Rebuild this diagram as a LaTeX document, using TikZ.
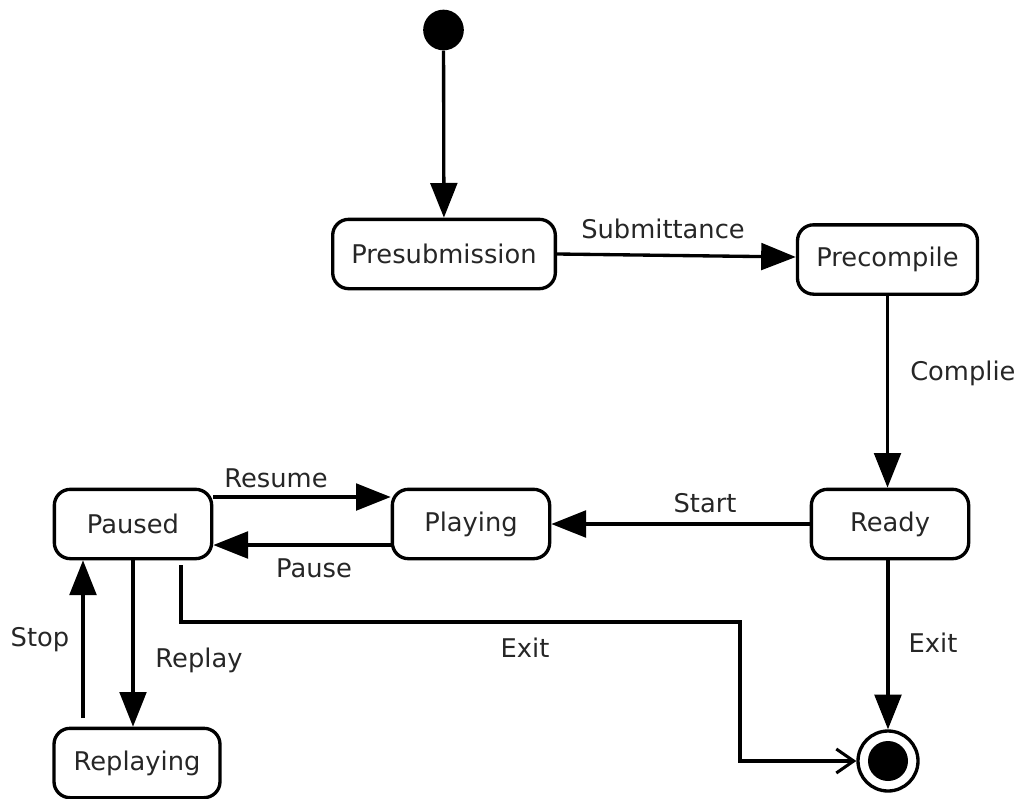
\documentclass[tikz,border=0pt]{standalone}
\usepackage{fontspec}
\setmainfont{DejaVu Sans}
\usetikzlibrary{arrows.meta}
\newcommand{\statefont}{\fontsize{19.3}{23}\selectfont}
\begin{document}
\begin{tikzpicture}[x=0.75pt,y=-0.75pt,
  state/.style={draw,line width=2.5pt,rounded corners=12pt,minimum height=52pt,
    inner sep=0pt,font=\statefont,text=black!85},
  lbl/.style={font=\statefont,text=black!85,inner sep=0pt},
  trans/.style={line width=2.5pt,-{Triangle[length=26pt,width=20pt]}},
  exitarrow/.style={line width=2.3pt,-{Straight Barb[length=13pt,width=18pt]}}]
\useasboundingbox (0,0) rectangle (1021,799);

% states
\node[circle,fill=black,minimum size=30.5pt,inner sep=0pt] (init) at (443.5,30) {};
\node[state,minimum width=167pt] (Presubmission) at (444,254) {Presubmission};
\node[state,minimum width=135pt] (Precompile) at (887.5,259.5) {Precompile};
\node[state,minimum width=118pt] (Ready) at (890,524) {Ready};
\node[state,minimum width=118pt] (Playing) at (471,524) {Playing};
\node[state,minimum width=118pt] (Paused) at (133,524) {Paused};
\node[state,minimum width=124.5pt] (Replaying) at (137,763) {Replaying};
\node[circle,draw,line width=2.5pt,minimum size=45pt,inner sep=0pt] (final) at (888,761) {};
\node[circle,fill=black,minimum size=30pt,inner sep=0pt] (finaldot) at (final.center) {};

% free ends
\coordinate (stopstart) at (83,718);
\coordinate (exitstart) at (181,565);
\coordinate (exitbend) at (740,622);

% transitions
\draw[trans] (init) -- (Presubmission);
\draw[trans] (Presubmission.east) -- (Precompile.west |- 0,257);
\draw[trans] (Precompile.south) -- (Precompile.south |- Ready.north);
\draw[trans] (Ready.west) -- (Playing.east);
\draw[trans] (Paused.east |- 0,497) -- (Playing.west |- 0,497);
\draw[trans] (Playing.west |- 0,545) -- (Paused.east |- 0,545);
\draw[trans] (Paused.south) -- (Paused.south |- Replaying.north);
\draw[trans] (stopstart) -- (stopstart |- Paused.south);
\draw[trans] (Ready.south -| final.north) -- (final.north);
\draw[exitarrow] (exitstart) |- (exitbend) |- (final.west);

% labels
\node[lbl] (lsub) at (663,229) {Submittance};
\node[lbl,anchor=west] (lcomp) at (910,373) {Complie};
\node[lbl] (lstart) at (705,503) {Start};
\node[lbl] (lresume) at (276,478) {Resume};
\node[lbl] (lpause) at (314,568) {Pause};
\node[lbl] (lstop) at (40,640) {Stop};
\node[lbl] (lreplay) at (199,660) {Replay};
\node[lbl] (lexit1) at (525,648) {Exit};
\node[lbl] (lexit2) at (933,643) {Exit};
\end{tikzpicture}
\end{document}
